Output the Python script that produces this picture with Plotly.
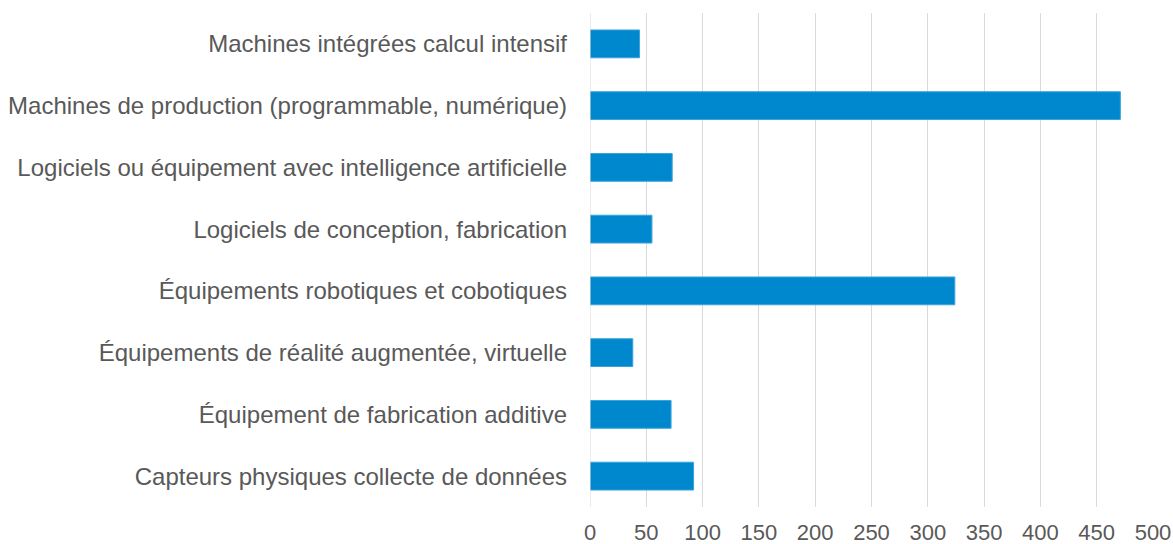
import plotly.graph_objects as go

categories = [
    "Machines intégrées calcul intensif",
    "Machines de production (programmable, numérique)",
    "Logiciels ou équipement avec intelligence artificielle",
    "Logiciels de conception, fabrication",
    "Équipements robotiques et cobotiques",
    "Équipements de réalité augmentée, virtuelle",
    "Équipement de fabrication additive",
    "Capteurs physiques collecte de données",
]
values = [44, 471, 73, 55, 324, 38, 72, 92]
x_ticks = [0, 50, 100, 150, 200, 250, 300, 350, 400, 450, 500]

fig = go.Figure(go.Bar(
    x=values, y=categories, orientation="h",
    marker=dict(color="#0088CE", line=dict(color="#3AA3DC", width=1)),
    hoverinfo="x+y",
))

fam = "Liberation Sans, Arial, sans-serif"
yfont = dict(family=fam, size=24, color="#595959")
xfont = dict(family=fam, size=22, color="#595959")
fig.update_layout(
    width=1173, height=544,
    margin=dict(l=590, r=20, t=13, b=37),
    paper_bgcolor="white", plot_bgcolor="white",
    bargap=0.55,
    showlegend=False,
    font=yfont,
    xaxis=dict(
        range=[0, 500], tickvals=x_ticks, showgrid=True,
        gridcolor="#D9D9D9", gridwidth=1, zeroline=False,
        showline=False, tickfont=xfont, ticks="",
        ticklabelstandoff=10, automargin=False,
    ),
    yaxis=dict(
        autorange="reversed", showgrid=False, zeroline=False,
        showline=False, tickfont=yfont, ticks="",
        ticklabelstandoff=22, automargin=False,
    ),
)
fig.add_shape(type="line", xref="x", yref="paper", x0=0, x1=0, y0=0, y1=1,
              line=dict(color="#D9D9D9", width=1))
fig.write_html(
    "out.html",
    config={"displayModeBar": False},
    post_script="document.body.style.margin='0';document.body.style.overflow='hidden';",
)
